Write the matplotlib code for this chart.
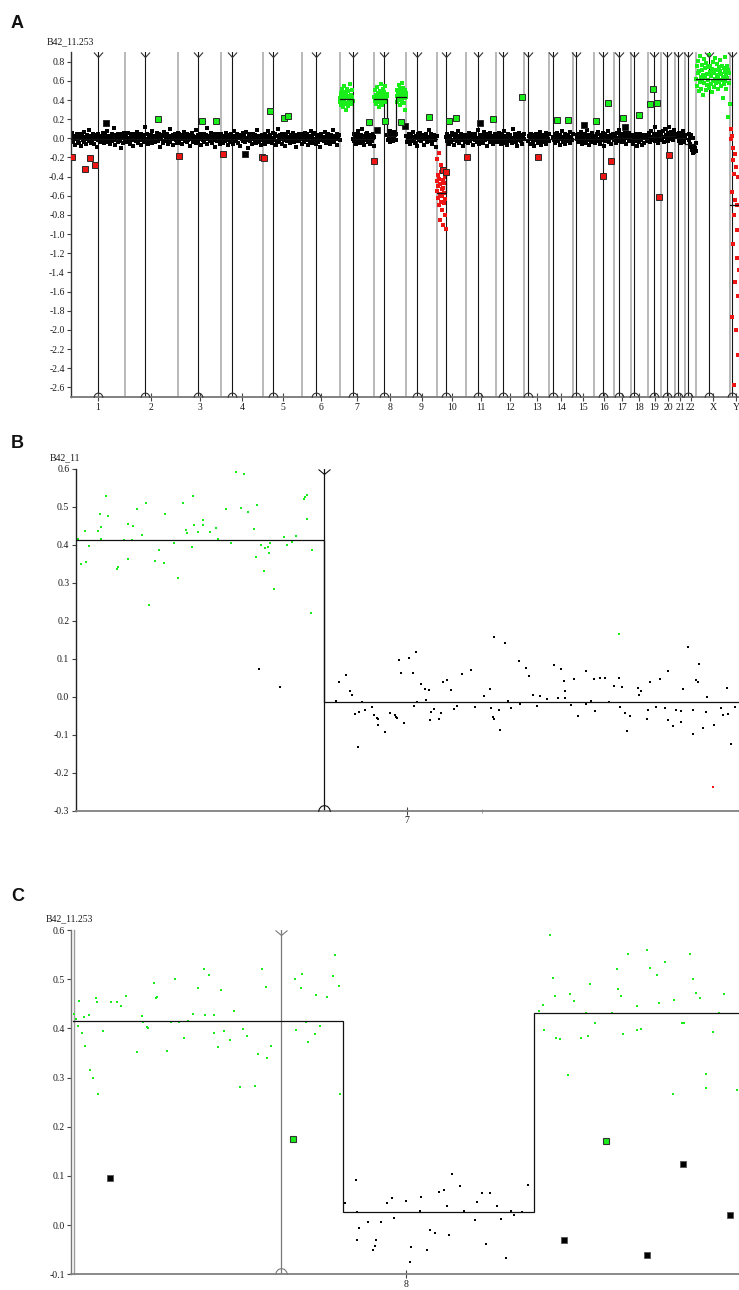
import numpy as np
import matplotlib
matplotlib.use("Agg")
import matplotlib.pyplot as plt
from matplotlib.path import Path
import matplotlib.transforms as mtransforms

# ======================= DATA =======================
chrom_names = ['1', '2', '3', '4', '5', '6', '7', '8', '9', '10', '11', '12',
               '13', '14', '15', '16', '17', '18', '19', '20', '21', '22', 'X', 'Y']
chrom_len = [247.2, 242.8, 199.5, 191.3, 180.9, 170.9, 158.8, 146.3, 140.3, 135.4,
             134.5, 132.3, 114.1, 106.4, 100.3, 88.8, 78.8, 76.1, 63.8, 62.4,
             46.9, 49.7, 154.9, 57.8]
centromere = [124.3, 93.3, 91.7, 50.7, 47.7, 60.1, 59.4, 45.6, 49.0, 40.3,
              52.9, 35.4, 16.0, 15.6, 17.0, 38.2, 22.2, 16.1, 28.5, 27.1,
              12.3, 11.8, 59.4, 11.7]

# Panel A probe groups: chromosome, start (Mb), end (Mb), colour class, log2 ratios x100
a_groups = [
    ('1', 0, 247.2, 'k', "3 -2 6 -4 0 -7 2 -1 5 -3 1 -5 4 -8 0 2 -2 7 -4 1 -6 3 -1 0 9 -3 2 -5 1 -2 4 -6 0 3 -1 -9 5 -2 1 -4 2 0 -3 6 -1 -5 3 1 -2 8 -4 0 2 -6 -1 4 -3 1 11 -2 -7 3 0 -4 5 -1 2 -3 -10 4 1 -5 6 -2"),
    ('2', 0, 242.8, 'k', "1 -4 3 -1 6 -3 0 -6 2 5 -2 -8 1 4 -1 -3 7 0 -5 2 -2 4 -7 1 3 -4 0 12 -1 -3 5 -6 2 -2 0 3 -5 8 -1 1 -4 2 -2 6 0 -3 4 -9 1 -1 3 -5 2 7 -3 0 -2 5 -6 1 10 -4 2 -1 3 -7 0 4 -2 1 -5 6"),
    ('3', 0, 199.5, 'k', "-2 4 -5 1 3 -1 -6 2 0 7 -3 1 -4 5 -2 0 -8 3 -1 6 2 -4 1 -2 9 -5 0 3 -3 -1 4 -7 2 0 -2 5 -4 1 3 -6 11 -1 2 -3 0 6 -5 1 -2 4 -9 2 0 -3 5 -1 3 -6 1 -2"),
    ('4', 0, 191.3, 'k', "4 -1 -5 2 0 -3 6 -2 1 -7 3 -4 0 5 -1 2 -6 8 -3 1 -2 4 -5 0 3 -8 1 -1 6 -3 2 -4 0 7 -2 -10 1 5 -3 2 -1 -6 4 0 -2 3 -5 9 -1 2 -4 1 -7 3 0 -2"),
    ('5', 0, 180.9, 'k', "1 -3 5 -6 2 0 -2 8 -4 1 3 -1 -5 6 -2 0 4 -7 2 -3 10 1 -4 3 -1 -6 5 0 -2 2 -8 4 -3 1 7 -1 -5 3 0 -2 6 -4 2 -1 -9 3 1 -3 5 -2 0 4 -6 2"),
    ('6', 0, 170.9, 'k', "-1 3 -4 6 0 -2 5 -7 1 2 -3 8 -5 0 4 -1 -2 6 -6 2 1 -4 3 -9 0 5 -2 1 -3 7 -1 -5 2 4 -2 0 -6 3 1 -3 9 -4 2 0 -1 5 -7 1 3 -2"),
    ('7', 0, 59.0, 'g', "42 38 47 35 44 51 40 33 45 39 55 41 36 48 43 30 46 52 37 42 49 34 44 40 57 38 45 41 36 50 43 39"),
    ('7', 61, 158.8, 'k', "-1 4 -3 2 -6 0 5 -2 8 -4 1 -5 3 -1 10 -3 2 -7 0 4 -2 6 -4 1 -1 3 -6 2 0 -3 5 -8 1"),
    ('8', 0, 59.0, 'g', "43 39 50 36 45 41 54 38 47 33 44 49 40 57 37 46 42 35 52 43 48 39 45 55 41 38 46 44"),
    ('8', 60, 100.5, 'k', "3 -2 5 0 8 -4 2 6 -1 4 -3 7 1 3 -2 5"),
    ('8', 102, 146.3, 'g', "44 50 38 47 42 56 40 46 35 52 45 41 48 58 39 44 53 37 46 42 50 30 47 43"),
    ('9', 0, 140.3, 'k', "2 -4 0 5 -2 -6 3 1 -3 7 -1 -5 2 0 -8 4 -2 1 6 -3 0 -1 3 -7 2 5 -4 1 -2 9 0 -3 4 -6 1 -1 3 -2 -9 2"),
    ('10', 0, 40.0, 'r', "-45 -55 -22 -38 -62 -50 -70 -15 -42 -58 -85 -48 -66 -28 -35 -53 -75 -60 -44 -90 -52 -68 -57 -47 -80 -63 -40 -95"),
    ('10', 42, 135.4, 'k', "1 -3 4 -1 -6 2 0 -4 6 -2 3 -7 1 -1 5 -3 0 8 -5 2 -2 4 -1 -8 3 0 -4 2 -1"),
    ('11', 0, 134.5, 'k', "-2 3 -5 1 6 -3 0 -1 4 -7 2 -2 5 0 -4 9 -1 -6 3 1 -3 2 -5 7 0 -2 4 -8 1 -1 3 -4 6 0 -2 2 -6 1 5 -3"),
    ('12', 0, 132.3, 'k', "3 -1 -4 2 0 6 -3 -6 1 4 -2 8 -5 0 2 -1 -7 5 -3 1 3 -2 -5 10 0 -1 4 -4 2 -8 1 6 -2 0 -3 3 -6 2 -1 5"),
    ('13', 18, 114.1, 'k', "-3 2 -6 0 4 -1 -4 3 -8 1 -2 5 0 -5 2 -1 7 -3 -7 1 3 -4 0 -2 6 -6 2 -1 -3 4"),
    ('14', 18, 106.4, 'k', "1 -2 4 -5 0 6 -3 2 -1 -7 3 0 8 -4 1 -2 5 -6 2 -1 3 -3 0 7 -5 1 -2 4"),
    ('15', 19, 100.3, 'k', "-1 3 -4 5 0 -2 7 -6 2 1 -3 4 -1 -5 9 0 -2 3 -7 1 -4 6 -1 2 -3 0"),
    ('16', 0, 88.8, 'k', "2 -5 0 4 -3 7 -1 -6 3 1 -2 6 -8 0 5 -3 2 -1 8 -4 1 3 -6 0 4 -2"),
    ('17', 0, 78.8, 'k', "4 -2 1 -5 6 0 -3 9 2 -1 5 -4 1 3 -2 7 0 -6 4 2 -3 6 1 -1"),
    ('18', 0, 76.1, 'k', "-2 1 -6 3 0 -3 5 -1 -8 2 -4 0 4 -2 -7 1 3 -5 0 2 -3 -1"),
    ('19', 0, 63.8, 'k', "3 -1 6 -4 1 8 -2 0 5 -3 12 2 -1 4 -5 7 0 3 -2"),
    ('20', 0, 62.4, 'k', "5 -2 8 1 -4 10 3 0 6 -3 12 2 -1 7 4 -2 9 1 5"),
    ('21', 14, 46.9, 'k', "2 -3 6 0 -5 4 1 -2 8 -4 3 0"),
    ('22', 15, 49.7, 'k', "-2 4 -6 1 -9 3 -12 0 -15 -8 -14 -10 -5 -13"),
    ('X', 0, 154.9, 'g', "62 75 55 68 81 49 70 59 86 64 52 77 60 71 45 66 83 58 73 63 50 79 67 56 74 61 87 53 69 76 57 65 48 72 80 60 54 68 84 62 71 58 66 78 51 63 74 59 70 82 55 67 61 76 64 42 73 57 69 85 60 66 52 75 63 22 71 58 68 36"),
    ('Y', 5, 40, 'r', "10 -1 -56 2 -186 -23 -110 -10 -257 -37 -80 -16 -150 -64 -200 -30 -125 -70 -96 -226 -40 -165 -137"),
]

# Panel A single outlier probes: chromosome, position (Mb), log2 ratio, colour class
a_outliers = [
    ('1', 4.6, -0.20, 'r'), ('1', 64, -0.32, 'r'), ('1', 86, -0.21, 'r'), ('1', 109, -0.28, 'r'),
    ('1', 160, 0.16, 'k'), ('2', 152, 0.20, 'g'), ('3', 4, -0.18, 'r'), ('3', 109.5, 0.18, 'g'),
    ('3', 175, 0.18, 'g'), ('4', 6.5, -0.165, 'r'), ('4', 108, -0.16, 'k'), ('4', 186, -0.20, 'r'),
    ('5', 4, -0.21, 'r'), ('5', 32, 0.28, 'g'), ('5', 96, 0.21, 'g'), ('5', 114, 0.23, 'g'),
    ('7', 136, 0.17, 'g'), ('8', 0.5, -0.24, 'r'), ('8', 14, 0.09, 'k'), ('8', 50, 0.18, 'g'),
    ('8', 122, 0.17, 'g'), ('8', 140, 0.13, 'k'), ('9', 106, 0.22, 'g'), ('10', 27, -0.33, 'r'),
    ('10', 42, -0.355, 'r'), ('10', 54.6, 0.18, 'g'), ('10', 88, 0.21, 'g'), ('11', 4.5, -0.195, 'r'),
    ('11', 63, 0.16, 'k'), ('11', 122, 0.20, 'g'), ('12', 121, 0.43, 'g'), ('13', 61, -0.195, 'r'),
    ('14', 35, 0.19, 'g'), ('14', 87, 0.19, 'g'), ('15', 52, 0.135, 'k'), ('16', 8.6, 0.18, 'g'),
    ('16', 40.7, -0.39, 'r'), ('16', 63.7, 0.37, 'g'), ('16', 78, -0.24, 'r'), ('17', 44, 0.21, 'g'),
    ('17', 53, 0.115, 'k'), ('18', 37, 0.24, 'g'), ('19', 12.5, 0.36, 'g'), ('19', 26.5, 0.52, 'g'),
    ('19', 44.5, 0.37, 'g'), ('19', 54, -0.61, 'r'), ('20', 35.5, -0.175, 'r'),
]

# Panel A segmentation: chromosome, start, end, segment mean
a_segments = [
    ('1', 0, 247.2, -0.01), ('2', 0, 242.8, -0.01), ('3', 0, 199.5, -0.01), ('4', 0, 191.3, -0.01),
    ('5', 0, 180.9, -0.01), ('6', 0, 170.9, -0.01), ('7', 0, 59.4, 0.415), ('7', 59.4, 158.8, -0.01),
    ('8', 0, 59.3, 0.415), ('8', 59.3, 101.3, 0.025), ('8', 101.3, 146.3, 0.43),
    ('9', 0, 140.3, -0.01), ('10', 0, 40.3, -0.57), ('10', 40.3, 135.4, -0.01),
    ('11', 0, 134.5, -0.01), ('12', 0, 132.3, -0.01), ('13', 0, 114.1, -0.01), ('14', 0, 106.4, -0.01),
    ('15', 0, 100.3, -0.01), ('16', 0, 88.8, -0.01), ('17', 0, 78.8, 0.0), ('18', 0, 76.1, -0.01),
    ('19', 0, 63.8, 0.01), ('20', 0, 62.4, 0.02), ('21', 0, 46.9, 0.0), ('22', 0, 49.7, -0.06),
    ('X', 0, 154.9, 0.62), ('Y', 0, 57.8, -0.70),
]
a_yticks = [0.8, 0.6, 0.4, 0.2, 0.0, -0.2, -0.4, -0.6, -0.8, -1.0, -1.2, -1.4, -1.6, -1.8,
            -2.0, -2.2, -2.4, -2.6]
a_ytick_labels = ['0.8', '0.6', '0.4', '0.2', '0.0', '-0.2', '-0.4', '-0.6', '-0.8', '-1.0',
                  '-1.2', '-1.4', '-1.6', '-1.8', '-2.0', '-2.2', '-2.4', '-2.6']

# Panel B (chromosome 7): (position Mb, log2 ratio)
b_green = [(0.0, 0.341), (0.7, 0.415), (1.2, 0.349), (2.3, 0.437), (2.5, 0.354), (3.2, 0.397),
           (5.4, 0.437), (5.9, 0.481), (6.1, 0.448), (6.1, 0.415), (7.2, 0.529), (7.8, 0.477),
           (9.9, 0.337), (10.1, 0.341), (11.7, 0.413), (12.6, 0.455), (12.6, 0.364), (13.6, 0.413),
           (13.8, 0.451), (14.8, 0.494), (15.8, 0.426), (16.8, 0.510), (17.7, 0.242), (19.1, 0.358),
           (20.1, 0.387), (21.1, 0.353), (21.5, 0.481), (23.6, 0.404), (24.6, 0.313), (25.8, 0.510),
           (26.4, 0.440), (26.6, 0.432), (27.9, 0.394), (28.2, 0.529), (28.4, 0.452), (29.4, 0.435),
           (30.4, 0.465), (30.6, 0.452), (32.3, 0.435), (33.7, 0.445), (34.2, 0.415), (36.0, 0.494),
           (37.3, 0.404), (38.4, 0.592), (39.5, 0.498), (40.4, 0.587), (41.2, 0.488), (42.7, 0.442),
           (43.1, 0.369), (43.4, 0.506), (44.4, 0.399), (45.0, 0.332), (45.4, 0.392), (46.0, 0.395),
           (46.4, 0.378), (46.6, 0.404), (47.4, 0.285), (49.9, 0.420), (50.7, 0.400), (51.7, 0.407),
           (52.8, 0.424), (54.7, 0.522), (55.0, 0.527), (55.3, 0.532), (55.4, 0.467), (56.4, 0.222),
           (56.7, 0.387), (130.0, 0.166)]
b_black = [(43.9, 0.072), (48.9, 0.026),
           (62.3, -0.010), (63.1, 0.040), (64.8, 0.057), (65.8, 0.015), (66.1, 0.004), (66.8, -0.045),
           (67.5, -0.133), (67.8, -0.040), (68.6, -0.014), (69.3, -0.034), (70.9, -0.026), (71.4, -0.047),
           (72.1, -0.055), (72.3, -0.058), (72.5, -0.075), (74.1, -0.092), (75.3, -0.042), (76.5, -0.048),
           (76.7, -0.054), (76.9, -0.057), (77.4, 0.097), (78.0, 0.062), (78.7, -0.070), (79.9, 0.102),
           (80.7, 0.062), (81.1, -0.023), (81.6, 0.119), (81.8, -0.015), (82.7, 0.034), (83.6, 0.021),
           (83.8, -0.008), (84.6, 0.018), (84.9, -0.062), (85.2, -0.040), (85.8, -0.033), (87.1, -0.059),
           (87.4, -0.043), (87.9, 0.038), (88.9, 0.043), (89.9, 0.018), (90.7, -0.031), (91.3, -0.025),
           (92.5, 0.059), (94.7, 0.071), (95.6, -0.026), (97.7, 0.003), (99.3, 0.021), (99.4, -0.029),
           (99.9, -0.052), (100.1, -0.059), (100.2, 0.158), (101.4, -0.034), (101.6, -0.088),
           (102.9, 0.142), (103.4, -0.010), (104.3, -0.030), (106.1, 0.094), (106.5, -0.019),
           (107.9, 0.076), (108.6, 0.056), (109.4, 0.006), (110.5, -0.023), (111.1, 0.001),
           (112.9, -0.006), (114.5, 0.085), (115.4, -0.002), (116.2, 0.072), (116.8, 0.042),
           (117.1, 0.014), (117.2, -0.003), (118.7, -0.022), (119.3, 0.046), (120.3, -0.050),
           (122.1, 0.067), (122.2, -0.018), (123.3, -0.010), (124.2, 0.046), (124.4, -0.037),
           (125.5, 0.049), (126.8, 0.049), (127.8, -0.014), (129.0, 0.028), (130.0, 0.049),
           (130.3, -0.026), (130.8, 0.025), (131.5, -0.042), (131.9, -0.090), (132.6, -0.050),
           (134.7, 0.022), (134.9, 0.006), (135.4, 0.015), (136.9, -0.058), (137.0, -0.034),
           (137.5, 0.038), (138.9, -0.027), (139.9, 0.047), (141.1, -0.030), (141.7, 0.069),
           (141.7, -0.062), (143.0, -0.078), (143.7, -0.036), (144.9, -0.066), (144.9, -0.038),
           (145.5, 0.021), (146.7, 0.130), (147.7, -0.036), (147.9, -0.097), (148.6, 0.045),
           (149.0, 0.040), (149.2, 0.087), (150.3, -0.083), (151.0, -0.040), (151.2, -0.001),
           (152.9, -0.075), (154.4, -0.029), (154.9, -0.047), (155.9, 0.024), (156.1, -0.044),
           (156.8, -0.125), (157.8, -0.026)]
b_red = [(152.5, -0.238)]
b_segments = [(0.0, 59.4, 0.412), (59.4, 158.8, -0.014)]
b_yticks = [0.6, 0.5, 0.4, 0.3, 0.2, 0.1, 0.0, -0.1, -0.2, -0.3]
b_ytick_labels = ['0.6', '0.5', '0.4', '0.3', '0.2', '0.1', '0.0', '-0.1', '-0.2', '-0.3']
b_minor_ticks = [97.2]

# Panel C (chromosome 8)
c_green = [(0.2, 0.430), (0.7, 0.419), (1.1, 0.404), (1.3, 0.455), (2.0, 0.390), (2.5, 0.424),
           (2.7, 0.365), (3.6, 0.428), (3.8, 0.316), (4.3, 0.299), (5.0, 0.461), (5.2, 0.453),
           (5.6, 0.266), (6.5, 0.394), (8.3, 0.453), (9.6, 0.453), (10.6, 0.446), (11.6, 0.465),
           (14.1, 0.351), (15.1, 0.426), (15.4, 0.413), (16.2, 0.403), (16.4, 0.401), (17.7, 0.493),
           (18.2, 0.462), (18.4, 0.463), (20.6, 0.353), (21.5, 0.412), (22.4, 0.501), (23.2, 0.412),
           (24.3, 0.380), (25.2, 0.416), (26.3, 0.430), (27.4, 0.482), (28.8, 0.520), (29.0, 0.428),
           (29.8, 0.509), (30.9, 0.428), (31.0, 0.391), (31.8, 0.363), (32.5, 0.478), (33.2, 0.395),
           (34.4, 0.376), (35.4, 0.435), (36.6, 0.280), (37.3, 0.399), (38.3, 0.384), (39.9, 0.283),
           (40.7, 0.347), (41.6, 0.520), (42.4, 0.484), (42.7, 0.339), (43.5, 0.364), (48.8, 0.501),
           (48.9, 0.397), (50.0, 0.482), (50.2, 0.511), (51.2, 0.412), (51.7, 0.372), (53.1, 0.389),
           (53.4, 0.467), (54.3, 0.404), (55.8, 0.463), (57.2, 0.507), (57.6, 0.550), (58.4, 0.486),
           (58.6, 0.266),
           (102.3, 0.436), (103.3, 0.448), (103.5, 0.397), (104.8, 0.590), (105.5, 0.503),
           (105.9, 0.465), (106.1, 0.381), (107.0, 0.378), (108.8, 0.306), (109.1, 0.470),
           (110.0, 0.455), (111.5, 0.381), (112.8, 0.432), (113.1, 0.385), (113.5, 0.491),
           (114.7, 0.411), (118.4, 0.432), (119.4, 0.520), (119.8, 0.480), (120.3, 0.465),
           (120.9, 0.389), (121.9, 0.551), (123.9, 0.446), (123.9, 0.397), (124.8, 0.399),
           (126.0, 0.560), (126.8, 0.522), (128.2, 0.509), (128.8, 0.451), (130.0, 0.535),
           (131.8, 0.266), (132.0, 0.457), (133.8, 0.411), (134.3, 0.411), (135.6, 0.551),
           (136.2, 0.501), (136.9, 0.472), (137.8, 0.461), (139.1, 0.308), (139.1, 0.278),
           (140.6, 0.392), (141.9, 0.432), (142.9, 0.470), (145.9, 0.274)]
c_black = [(59.8, 0.045), (62.1, 0.091), (62.4, 0.026), (62.8, -0.006), (62.4, -0.031), (64.9, 0.007),
           (65.9, -0.051), (66.4, -0.043), (66.6, -0.031), (67.7, 0.007), (68.9, 0.044), (70.0, 0.056),
           (70.6, 0.015), (73.1, 0.050), (74.1, -0.074), (74.3, -0.045), (76.3, 0.028), (76.5, 0.058),
           (77.8, -0.050), (78.5, -0.010), (79.6, -0.016), (80.4, 0.067), (81.5, 0.071), (82.1, 0.038),
           (82.6, -0.020), (83.3, 0.104), (85.0, 0.079), (85.9, 0.028), (88.4, 0.011), (88.8, 0.048),
           (89.9, 0.066), (90.8, -0.039), (91.7, 0.065), (93.1, 0.038), (94.0, 0.012), (95.1, -0.066),
           (96.2, 0.029), (96.9, 0.021), (98.7, 0.026), (100.0, 0.081)]
c_big_black = [(8.1, 0.096), (107.8, -0.031), (126.1, -0.060), (134.1, 0.125), (144.3, 0.021)]
c_big_green = [(48.3, 0.176), (117.1, 0.172)]
c_segments = [(0.0, 59.3, 0.416), (59.3, 101.3, 0.026), (101.3, 146.3, 0.432)]
c_yticks = [0.6, 0.5, 0.4, 0.3, 0.2, 0.1, 0.0, -0.1]
c_ytick_labels = ['0.6', '0.5', '0.4', '0.3', '0.2', '0.1', '0.0', '-0.1']

# ======================= STYLE =======================
plt.rcParams['font.family'] = ['Liberation Serif', 'DejaVu Serif']
plt.rcParams['axes.unicode_minus'] = False
COL = {'k': '#000000', 'g': '#1aee1a', 'r': '#ee1515'}
TXT = '#1a1a1a'

W, H = 739, 1290
fig = plt.figure(figsize=(W / 100, H / 100), dpi=100)


def axes_px(left, top, right, bottom):
    return fig.add_axes([left / W, 1 - bottom / H, (right - left) / W, (bottom - top) / H])


V_NARROW = Path([(-1, 0), (0, -1.1), (1, 0)], [Path.MOVETO, Path.LINETO, Path.LINETO])
V_WIDE = Path([(-1.2, 0), (0, -1), (1.2, 0)], [Path.MOVETO, Path.LINETO, Path.LINETO])
ARCH = Path([(-1.0, -0.05), (-0.85, 0.45), (-0.5, 0.85), (0.0, 1.0), (0.5, 0.85),
             (0.85, 0.45), (1.0, -0.05)], [Path.MOVETO] + [Path.LINETO] * 6)


def style_axes(ax, left_color='#333333', bottom_color='#777777'):
    for s in ('top', 'right'):
        ax.spines[s].set_visible(False)
    ax.spines['left'].set_color(left_color)
    ax.spines['left'].set_linewidth(1.0)
    ax.spines['bottom'].set_color(bottom_color)
    ax.spines['bottom'].set_linewidth(1.3)
    ax.tick_params(axis='y', direction='out', length=3, width=0.8, colors='#444444',
                   labelcolor=TXT, labelsize=7, pad=1.5)
    ax.tick_params(axis='x', which='major', direction='inout', length=6, width=0.8,
                   colors='#444444', labelcolor=TXT, labelsize=7, pad=1.0)
    ax.tick_params(axis='x', which='minor', direction='inout', length=3, width=0.6,
                   colors='#999999')


def centromere_marks(ax, x, ymin, ymax, color, vmark, ms_top, ms_bot):
    ax.axvline(x, color=color, lw=0.9, zorder=1)
    ax.plot([x], [ymax], ls='none', marker=vmark, ms=ms_top, mfc='none', mec=color,
            mew=0.8, clip_on=False, zorder=6)
    ax.plot([x], [ymin], ls='none', marker=ARCH, ms=ms_bot, mfc='none', mec=color,
            mew=0.8, clip_on=False, zorder=6)


def step_line(ax, segs, x0=0.0):
    xs, ys = [], []
    for s, e, m in segs:
        xs += [x0 + s, x0 + e]
        ys += [m, m]
    ax.plot(xs, ys, color='#111111', lw=0.9, zorder=3, solid_joinstyle='miter')


# ======================= PANEL A =======================
offs = dict(zip(chrom_names, np.concatenate([[0.0], np.cumsum(chrom_len)[:-1]])))
clen = dict(zip(chrom_names, chrom_len))
ccen = dict(zip(chrom_names, centromere))
a_ymin, a_ymax = -2.7, 0.9

axA = axes_px(71, 52.1, 742.5, 397)
axA.set_xlim(0, sum(chrom_len))
axA.set_ylim(a_ymin, a_ymax)
for name in chrom_names[1:]:
    axA.axvline(offs[name], color='#a5a5a5', lw=1.1, zorder=1)
for name in chrom_names:
    axA.axvline(offs[name] + ccen[name], color='#151515', lw=0.8, zorder=1)
cen_x = [offs[n] + ccen[n] for n in chrom_names]
axA.plot(cen_x, [a_ymax] * len(cen_x), ls='none', marker=V_NARROW, ms=7.2, mfc='none',
         mec='#333333', mew=0.8, clip_on=False, zorder=6)
axA.plot(cen_x, [a_ymin] * len(cen_x), ls='none', marker=ARCH, ms=6.5, mfc='none',
         mec='#333333', mew=0.8, clip_on=False, zorder=6)

for chrom, s, e, c, vals in a_groups:
    v = np.array(vals.split(), dtype=float) / 100.0
    x = offs[chrom] + np.linspace(s, e, len(v))
    axA.plot(x, v, ls='none', marker='s', ms=2.9, mew=0, color=COL[c], zorder=2)

for name in chrom_names:
    segs = [(s, e, m) for ch, s, e, m in a_segments if ch == name]
    step_line(axA, segs, offs[name])

for c in ('k', 'g', 'r'):
    pts = [(offs[ch] + p, v) for ch, p, v, cc in a_outliers if cc == c]
    axA.plot([p[0] for p in pts], [p[1] for p in pts], ls='none', marker='s', ms=3.8,
             mfc=COL[c], mec='#2a2a2a', mew=0.7, zorder=4)

style_axes(axA)
axA.set_xticks([offs[n] + clen[n] / 2 for n in chrom_names])
axA.set_xticklabels(chrom_names)
axA.set_yticks(a_yticks)
axA.set_yticklabels(a_ytick_labels)

# ======================= PANEL B =======================
b_len, b_cen = chrom_len[6], centromere[6]
axB = axes_px(75.5, 469, 739, 810.7)
axB.set_xlim(0, b_len)
axB.set_ylim(-0.3, 0.6)
centromere_marks(axB, b_cen, -0.3, 0.6, '#111111', V_WIDE, 8.6, 8.6)
for pts, c in ((b_green, 'g'), (b_black, 'k'), (b_red, 'r')):
    axB.plot([p[0] for p in pts], [p[1] for p in pts], ls='none', marker='s', ms=2.0,
             mew=0, color=COL[c], zorder=2)
step_line(axB, b_segments)
style_axes(axB, left_color='#222222', bottom_color='#808080')
axB.set_xticks([b_len / 2])
axB.set_xticklabels([chrom_names[6]])
axB.set_xticks(b_minor_ticks, minor=True)
axB.set_yticks(b_yticks)
axB.set_yticklabels(b_ytick_labels)

# ======================= PANEL C =======================
c_len, c_cen = chrom_len[7], centromere[7]
axC = axes_px(71, 930, 739, 1274.3)
axC.set_xlim(-0.44, c_len)
axC.set_ylim(-0.1, 0.6)
centromere_marks(axC, c_cen, -0.1, 0.6, '#7a7a7a', V_WIDE, 8.6, 8.6)
for pts, c in ((c_green, 'g'), (c_black, 'k')):
    axC.plot([p[0] for p in pts], [p[1] for p in pts], ls='none', marker='s', ms=2.0,
             mew=0, color=COL[c], zorder=2)
axC.plot([p[0] for p in c_big_black], [p[1] for p in c_big_black], ls='none', marker='s',
         ms=4.0, mfc='#000000', mec='#555555', mew=0.6, zorder=4)
axC.plot([p[0] for p in c_big_green], [p[1] for p in c_big_green], ls='none', marker='s',
         ms=4.0, mfc=COL['g'], mec='#333333', mew=0.8, zorder=4)
step_line(axC, c_segments)
style_axes(axC, left_color='#777777', bottom_color='#808080')
inner = mtransforms.offset_copy(axC.transAxes, fig=fig, x=3, y=0, units='dots')
axC.plot([0, 0], [0, 1], color='#9a9a9a', lw=1.0, transform=inner, clip_on=False, zorder=1)
axC.set_xticks([c_len / 2])
axC.set_xticklabels([chrom_names[7]])
axC.set_yticks(c_yticks)
axC.set_yticklabels(c_ytick_labels)

# ======================= TEXT =======================
fig.text(47 / W, 1 - 42 / H, 'B42_11.253', ha='left', va='center', fontsize=7, color=TXT)
fig.text(50 / W, 1 - 458 / H, 'B42_11', ha='left', va='center', fontsize=7, color=TXT)
fig.text(46 / W, 1 - 919 / H, 'B42_11.253', ha='left', va='center', fontsize=7, color=TXT)
for lab, y in (('A', 23.5), ('B', 443.5), ('C', 896.7)):
    fig.text(11 / W, 1 - y / H, lab, ha='left', va='center', fontsize=13, fontweight='bold',
             family=['Liberation Sans', 'DejaVu Sans'], color='#111111')

fig.savefig('out.png', dpi=100)
